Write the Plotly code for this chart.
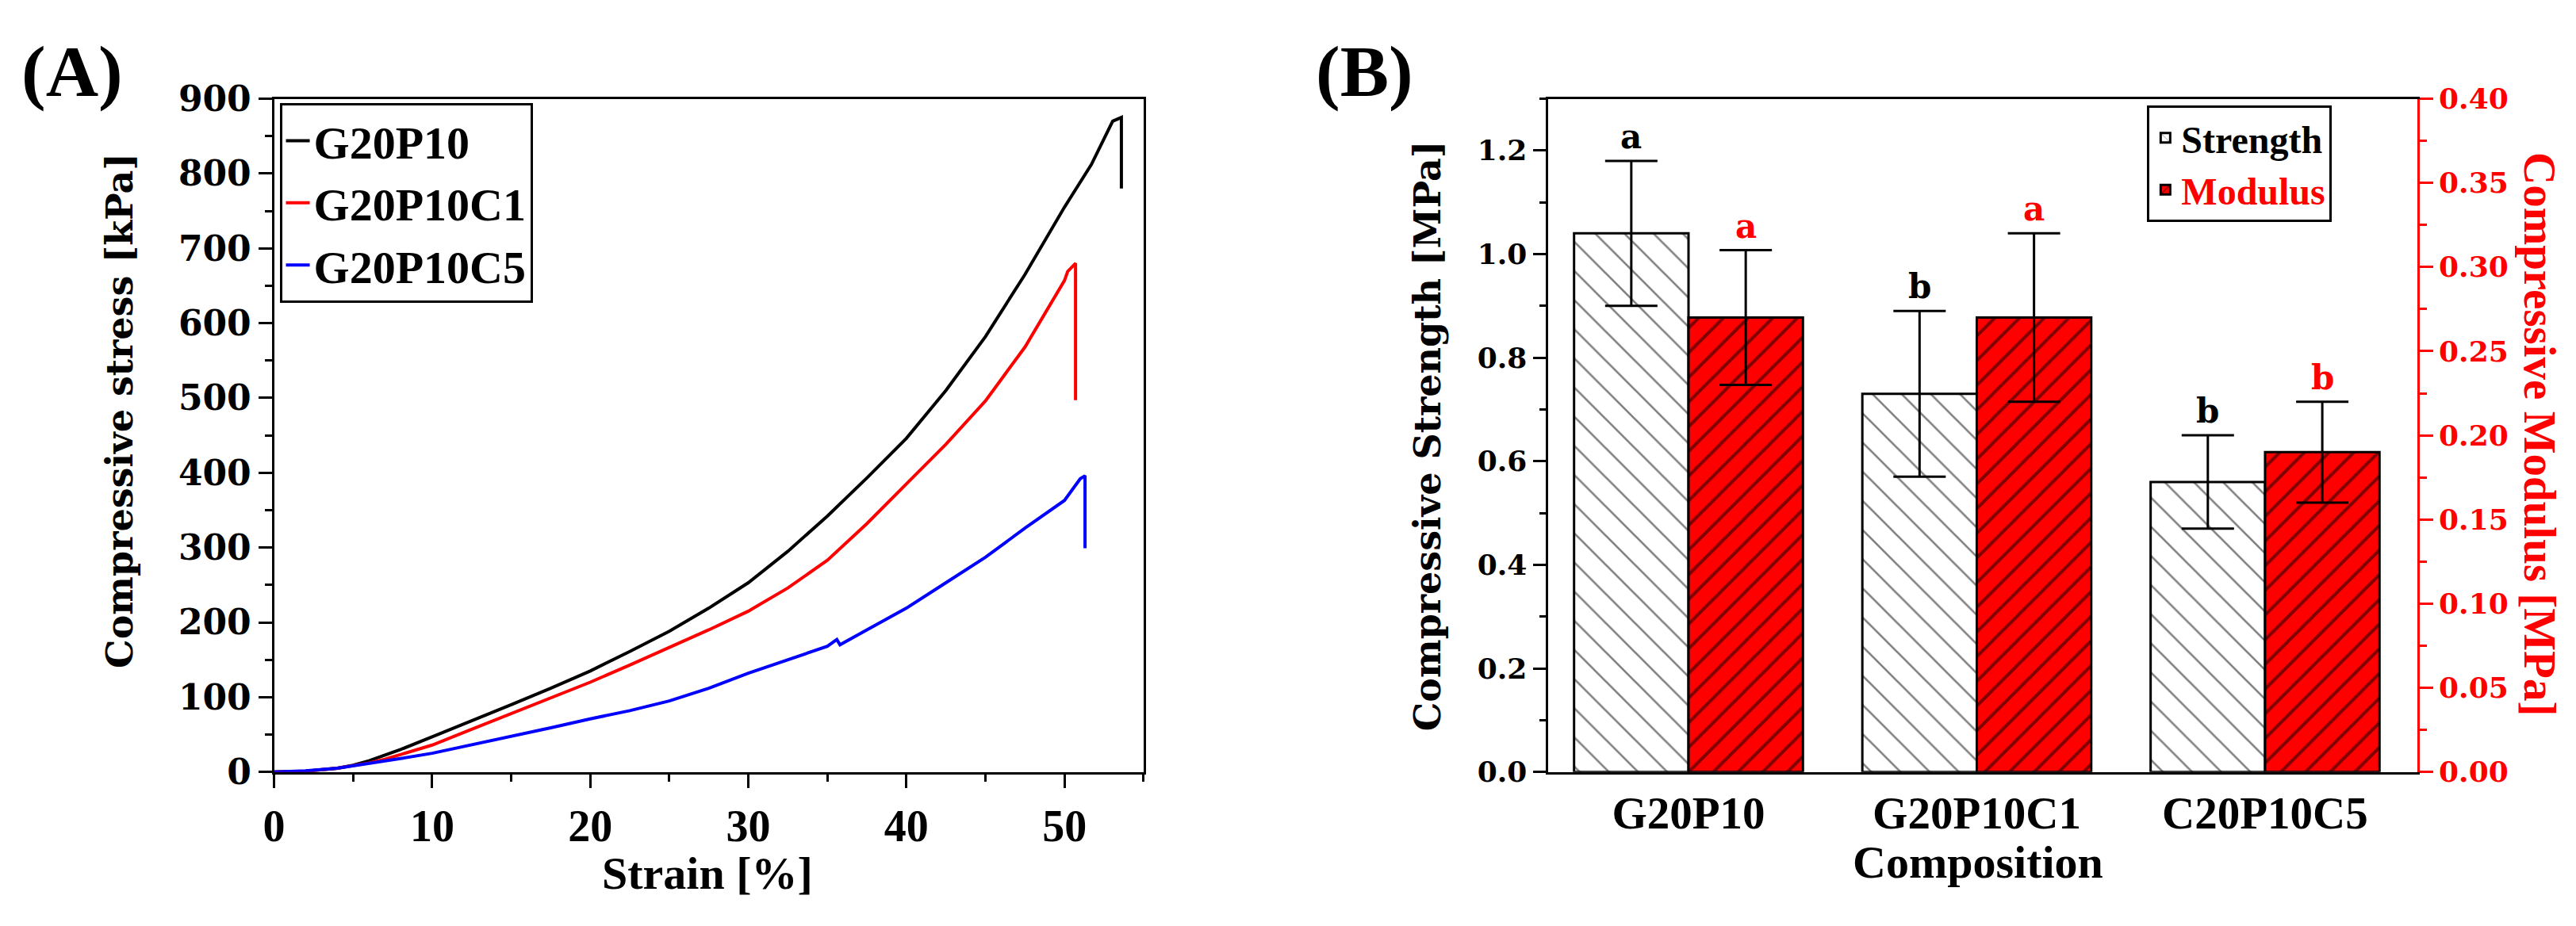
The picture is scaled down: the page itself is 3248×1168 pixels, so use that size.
import plotly.graph_objects as go

# ---------------- Panel A data ----------------
strain_g20p10 = [0, 2, 4, 5, 6, 7, 8, 10, 12.5, 15, 17.5, 20, 22.5, 25, 27.5, 30, 32.5, 35,
                 37.5, 40, 42.5, 45, 47.5, 50, 51.7, 52.4, 53.05, 53.6, 53.6]
stress_g20p10 = [0, 1, 5, 9, 15, 22, 30, 47, 68, 90, 112, 135, 161, 188, 219, 253, 295, 342,
                 393, 446, 510, 582, 665, 755, 812, 842, 870, 875, 780]

strain_g20p10c1 = [0, 2, 4, 5, 6, 7, 8, 10, 12.5, 15, 17.5, 20, 22.5, 25, 27.5, 30, 32.5, 35,
                   37.5, 40, 42.5, 45, 47.5, 50, 50.2, 50.7, 50.7]
stress_g20p10c1 = [0, 1, 5, 8, 12, 17, 23, 36, 57, 78, 99, 120, 143, 166, 190, 215, 246, 283,
                   332, 385, 438, 496, 568, 657, 669, 680, 497]

strain_g20p10c5 = [0, 2, 4, 5, 6, 7, 8, 10, 12.5, 15, 17.5, 20, 22.5, 25, 27.5, 30, 32.5, 35,
                   35.6, 35.8, 37.5, 40, 42.5, 45, 47.5, 50, 51.0, 51.3, 51.3]
stress_g20p10c5 = [0, 1.5, 5, 8, 11, 14, 18, 25, 36, 48, 59, 71, 82, 95, 112, 132, 150, 168,
                   177, 170, 190, 219, 253, 287, 326, 363, 392, 396, 299]

line_names = ["G20P10", "G20P10C1", "G20P10C5"]
line_colors = ["#000000", "#ff0000", "#0000ff"]

# ---------------- Panel B data ----------------
compositions = ["G20P10", "G20P10C1", "C20P10C5"]
strength = [1.04, 0.73, 0.56]
strength_err = [0.14, 0.16, 0.09]
strength_letters = ["a", "b", "b"]
modulus = [0.27, 0.27, 0.19]
modulus_err = [0.04, 0.05, 0.03]
modulus_letters = ["a", "a", "b"]

W, H = 3248, 1168
BAR_W = 0.397

def px_x(p):
    return p / W

def px_y(p):
    return 1 - p / H

SERIF_WIDE = "DejaVu Serif"
SERIF = "Liberation Serif"

fig = go.Figure()

for xs, ys, nm, col in zip([strain_g20p10, strain_g20p10c1, strain_g20p10c5],
                           [stress_g20p10, stress_g20p10c1, stress_g20p10c5],
                           line_names, line_colors):
    fig.add_trace(go.Scatter(x=xs, y=ys, mode="lines", name=nm,
                             line=dict(color=col, width=4),
                             xaxis="x", yaxis="y", legend="legend"))

fig.add_trace(go.Bar(
    x=compositions, y=strength, name="Strength",
    width=BAR_W, offset=-BAR_W,
    marker=dict(color="white", line=dict(color="black", width=3),
                pattern=dict(shape="\\", fgcolor="black", bgcolor="white", size=26, solidity=0.1)),
    error_y=dict(type="data", array=strength_err, color="black", thickness=3, width=33),
    xaxis="x2", yaxis="y2", legend="legend2"))

fig.add_trace(go.Bar(
    x=compositions, y=modulus, name="<span style='color:#ff0000'>Modulus</span>",
    width=BAR_W, offset=0,
    marker=dict(color="#ff0000", line=dict(color="black", width=3),
                pattern=dict(shape="/", fgcolor="black", bgcolor="#ff0000", size=22, solidity=0.18)),
    error_y=dict(type="data", array=modulus_err, color="black", thickness=3, width=33),
    xaxis="x2", yaxis="y3", legend="legend2"))

annotations = []
for i, (v, e, lt) in enumerate(zip(strength, strength_err, strength_letters)):
    annotations.append(dict(x=i - BAR_W / 2, y=v + e, xref="x2", yref="y2", text=lt,
                            showarrow=False, yanchor="bottom", yshift=4,
                            font=dict(family=SERIF_WIDE, size=42, color="black", weight="bold")))
for i, (v, e, lt) in enumerate(zip(modulus, modulus_err, modulus_letters)):
    annotations.append(dict(x=i + BAR_W / 2, y=v + e, xref="x2", yref="y3", text=lt,
                            showarrow=False, yanchor="bottom", yshift=4,
                            font=dict(family=SERIF_WIDE, size=42, color="#ff0000", weight="bold")))

def txt(text, x, y, size, family, color="black", angle=0):
    return dict(text=text, x=px_x(x), y=px_y(y), xref="paper", yref="paper",
                showarrow=False, xanchor="center", yanchor="middle", textangle=angle,
                font=dict(family=family, size=size, color=color, weight="bold"))

annotations += [
    txt("(A)", 77, 67, 92, SERIF),
    txt("(B)", 1714, 67, 92, SERIF),
    txt("Compressive stress [kPa]", 137, 514, 46, SERIF_WIDE, angle=-90),
    txt("Strain [%]", 882, 1125, 58, SERIF),
    txt("Compressive Strength [MPa]", 1794, 548, 46, SERIF_WIDE, angle=-90),
    txt("Compressive Modulus [MPa]", 3203, 545, 57, SERIF, color="#ff0000", angle=90),
    txt("Composition", 2491, 1110, 58, SERIF),
]

dom_y = [px_y(991), px_y(103)]

common_axis = dict(showgrid=False, zeroline=False, showline=True, linewidth=3)

fig.update_layout(
    width=W, height=H, autosize=False,
    margin=dict(l=0, r=0, t=0, b=0),
    paper_bgcolor="white", plot_bgcolor="white",
    annotations=annotations,
    xaxis=dict(domain=[px_x(333), px_x(1434)], range=[0, 55], anchor="y",
               linecolor="black", mirror=True, ticks="outside", ticklen=17, tickwidth=3,
               tickcolor="black", tick0=0, dtick=10,
               minor=dict(dtick=5, ticks="outside", ticklen=9, tickwidth=3, tickcolor="black", showgrid=False),
               tickfont=dict(family=SERIF, size=56, color="black", weight="bold"),
               **common_axis),
    yaxis=dict(domain=dom_y, range=[0, 900], anchor="x",
               linecolor="black", mirror=True, ticks="outside", ticklen=17, tickwidth=3,
               tickcolor="black", tick0=0, dtick=100,
               minor=dict(dtick=50, ticks="outside", ticklen=9, tickwidth=3, tickcolor="black", showgrid=False),
               tickfont=dict(family=SERIF_WIDE, size=44, color="black", weight="bold"),
               **common_axis),
    xaxis2=dict(domain=[px_x(1946), px_x(3047)], type="category", range=[-0.488, 2.528],
                anchor="y2", linecolor="black", mirror=True, ticks="",
                tickfont=dict(family=SERIF, size=57, color="black", weight="bold"),
                **common_axis),
    yaxis2=dict(domain=dom_y, range=[0, 1.3], anchor="x2",
                linecolor="black", ticks="outside", ticklen=16, tickwidth=3, tickcolor="black",
                tick0=0, dtick=0.2, tickformat=".1f",
                minor=dict(dtick=0.1, ticks="outside", ticklen=8, tickwidth=3, tickcolor="black", showgrid=False),
                tickfont=dict(family=SERIF_WIDE, size=36, color="black", weight="bold"),
                **common_axis),
    yaxis3=dict(overlaying="y2", side="right", anchor="x2", range=[0, 0.4],
                linecolor="#ff0000", ticks="outside", ticklen=17, tickwidth=3, tickcolor="#ff0000",
                tick0=0, dtick=0.05, tickformat=".2f",
                minor=dict(dtick=0.025, ticks="outside", ticklen=9, tickwidth=3, tickcolor="#ff0000", showgrid=False),
                tickfont=dict(family=SERIF_WIDE, size=36, color="#ff0000", weight="bold"),
                **common_axis),
    legend=dict(x=px_x(340), y=px_y(109), xanchor="left", yanchor="top",
                bgcolor="white", bordercolor="black", borderwidth=3,
                font=dict(family=SERIF, size=58, color="black", weight="bold"),
                tracegroupgap=0),
    legend2=dict(x=px_x(2705), y=px_y(112), xanchor="left", yanchor="top",
                 bgcolor="white", bordercolor="black", borderwidth=3,
                 font=dict(family=SERIF, size=48, color="black", weight="bold"),
                 tracegroupgap=0),
    showlegend=True,
)

fig.write_html("out.html",
               config={"displayModeBar": False},
               post_script="document.body.style.margin='0';document.body.style.overflow='hidden';")
